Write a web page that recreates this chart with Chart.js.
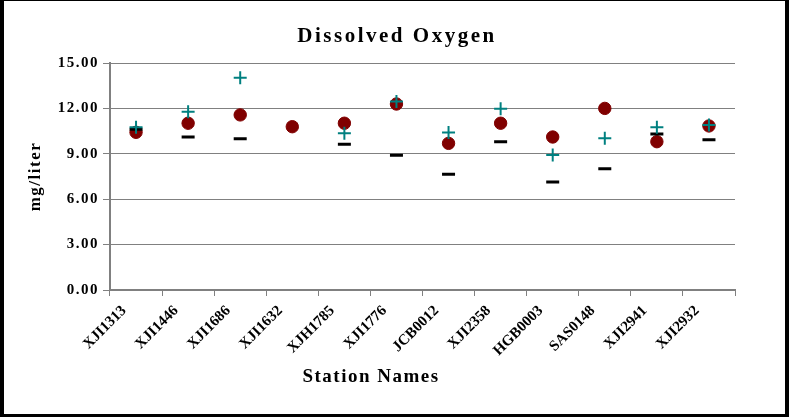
<!DOCTYPE html>
<html>
<head>
<meta charset="utf-8">
<script src="https://cdn.jsdelivr.net/npm/chart.js@4.4.0/dist/chart.umd.min.js"></script>
<style>
  html, body { margin: 0; padding: 0; background: #fff; }
  #wrap { position: relative; width: 791px; height: 417px; }
  #frame {
    position: absolute; left: 0; top: 0; width: 781px; height: 413px;
    border-style: solid; border-color: #000; border-width: 1px 4px 3px 4px;
    pointer-events: none;
  }
</style>
</head>
<body>
<div id="wrap">
  <canvas id="chart" width="791" height="417"></canvas>
  <div id="frame"></div>
</div>
<script>
const stations = ["XJI1313", "XJI1446", "XJI1686", "XJI1632", "XJH1785", "XJI1776",
                  "JCB0012", "XJI2358", "HGB0003", "SAS0148", "XJI2941", "XJI2932"];
const crossValues  = [10.75, 11.78, 14.03, null, 10.35, 12.45, 10.40, 11.98, 8.92, 10.02, 10.75, 10.90];
const dashValues   = [10.62, 10.11, 10.00, null, 9.63, 8.91, 7.65, 9.80, 7.14, 8.02, 10.31, 9.93];
const circleValues = [10.42, 11.02, 11.57, 10.79, 11.02, 12.29, 9.69, 11.02, 10.11, 12.00, 9.80, 10.84];
const yMin = 0, yMax = 15, yStep = 3;

const serif = '"Liberation Serif", "Times New Roman", serif';

// Excel-style spaced lettering for titles / y axis, plain for x labels
const spacing = {
  id: 'spacing',
  beforeDraw(chart) { chart.ctx.letterSpacing = '1.5px'; },
  afterDatasetsDraw(chart) { chart.ctx.letterSpacing = '0px'; },
  afterDraw(chart) {
    const ctx = chart.ctx;
    ctx.save();
    ctx.fillStyle = '#000';
    ctx.textAlign = 'center';
    ctx.textBaseline = 'middle';
    ctx.letterSpacing = '2.5px';
    ctx.font = 'bold 21px ' + serif;
    ctx.fillText('Dissolved Oxygen', 397, 37);
    ctx.letterSpacing = '1.5px';
    ctx.font = 'bold 19px ' + serif;
    ctx.fillText('Station Names', 371, 377);
    ctx.restore();
  }
};

new Chart(document.getElementById('chart'), {
  type: 'line',
  data: {
    labels: stations,
    datasets: [
      {
        label: 'cross',
        data: crossValues,
        showLine: false,
        pointStyle: 'cross',
        pointRadius: 6.5,
        pointBorderWidth: 2,
        pointBorderColor: '#008080',
        pointBackgroundColor: '#008080'
      },
      {
        label: 'dash',
        data: dashValues,
        showLine: false,
        pointStyle: 'line',
        pointRadius: 6.5,
        pointBorderWidth: 3,
        pointBorderColor: '#000000',
        pointBackgroundColor: '#000000'
      },
      {
        label: 'circle',
        data: circleValues,
        showLine: false,
        pointStyle: 'circle',
        pointRadius: 6.2,
        pointBorderWidth: 1,
        pointBorderColor: '#800000',
        pointBackgroundColor: '#800000'
      }
    ]
  },
  options: {
    responsive: false,
    animation: false,
    events: [],
    layout: { padding: { top: 63, left: 0, right: 56, bottom: 0 } },
    plugins: {
      legend: { display: false },
      tooltip: { enabled: false },
      title: { display: false }
    },
    scales: {
      x: {
        offset: true,
        afterFit: s => { s.height = 127; },
        grid: { offset: true, drawOnChartArea: false, drawTicks: true, tickLength: 6, color: '#808080' },
        border: { color: '#808080', width: 2 },
        ticks: {
          z: 1,
          autoSkip: false,
          minRotation: 45,
          maxRotation: 45,
          padding: 6,
          labelOffset: -12,
          color: '#000',
          font: { family: serif, size: 15, weight: 'bold' }
        }
      },
      y: {
        min: yMin,
        max: yMax,
        afterFit: s => { s.width = 110; },
        grid: { color: '#808080', lineWidth: 1, tickLength: 7 },
        border: { color: '#808080', width: 2 },
        ticks: {
          stepSize: yStep,
          padding: 4,
          color: '#000',
          font: { family: serif, size: 15, weight: 'bold' },
          callback: v => v.toFixed(2)
        },
        title: {
          display: true,
          text: 'mg/liter',
          color: '#000',
          font: { family: serif, size: 17, weight: 'bold', lineHeight: 1.2 },
          padding: { top: 25, bottom: 0 }
        }
      }
    }
  },
  plugins: [spacing]
});
</script>
</body>
</html>
